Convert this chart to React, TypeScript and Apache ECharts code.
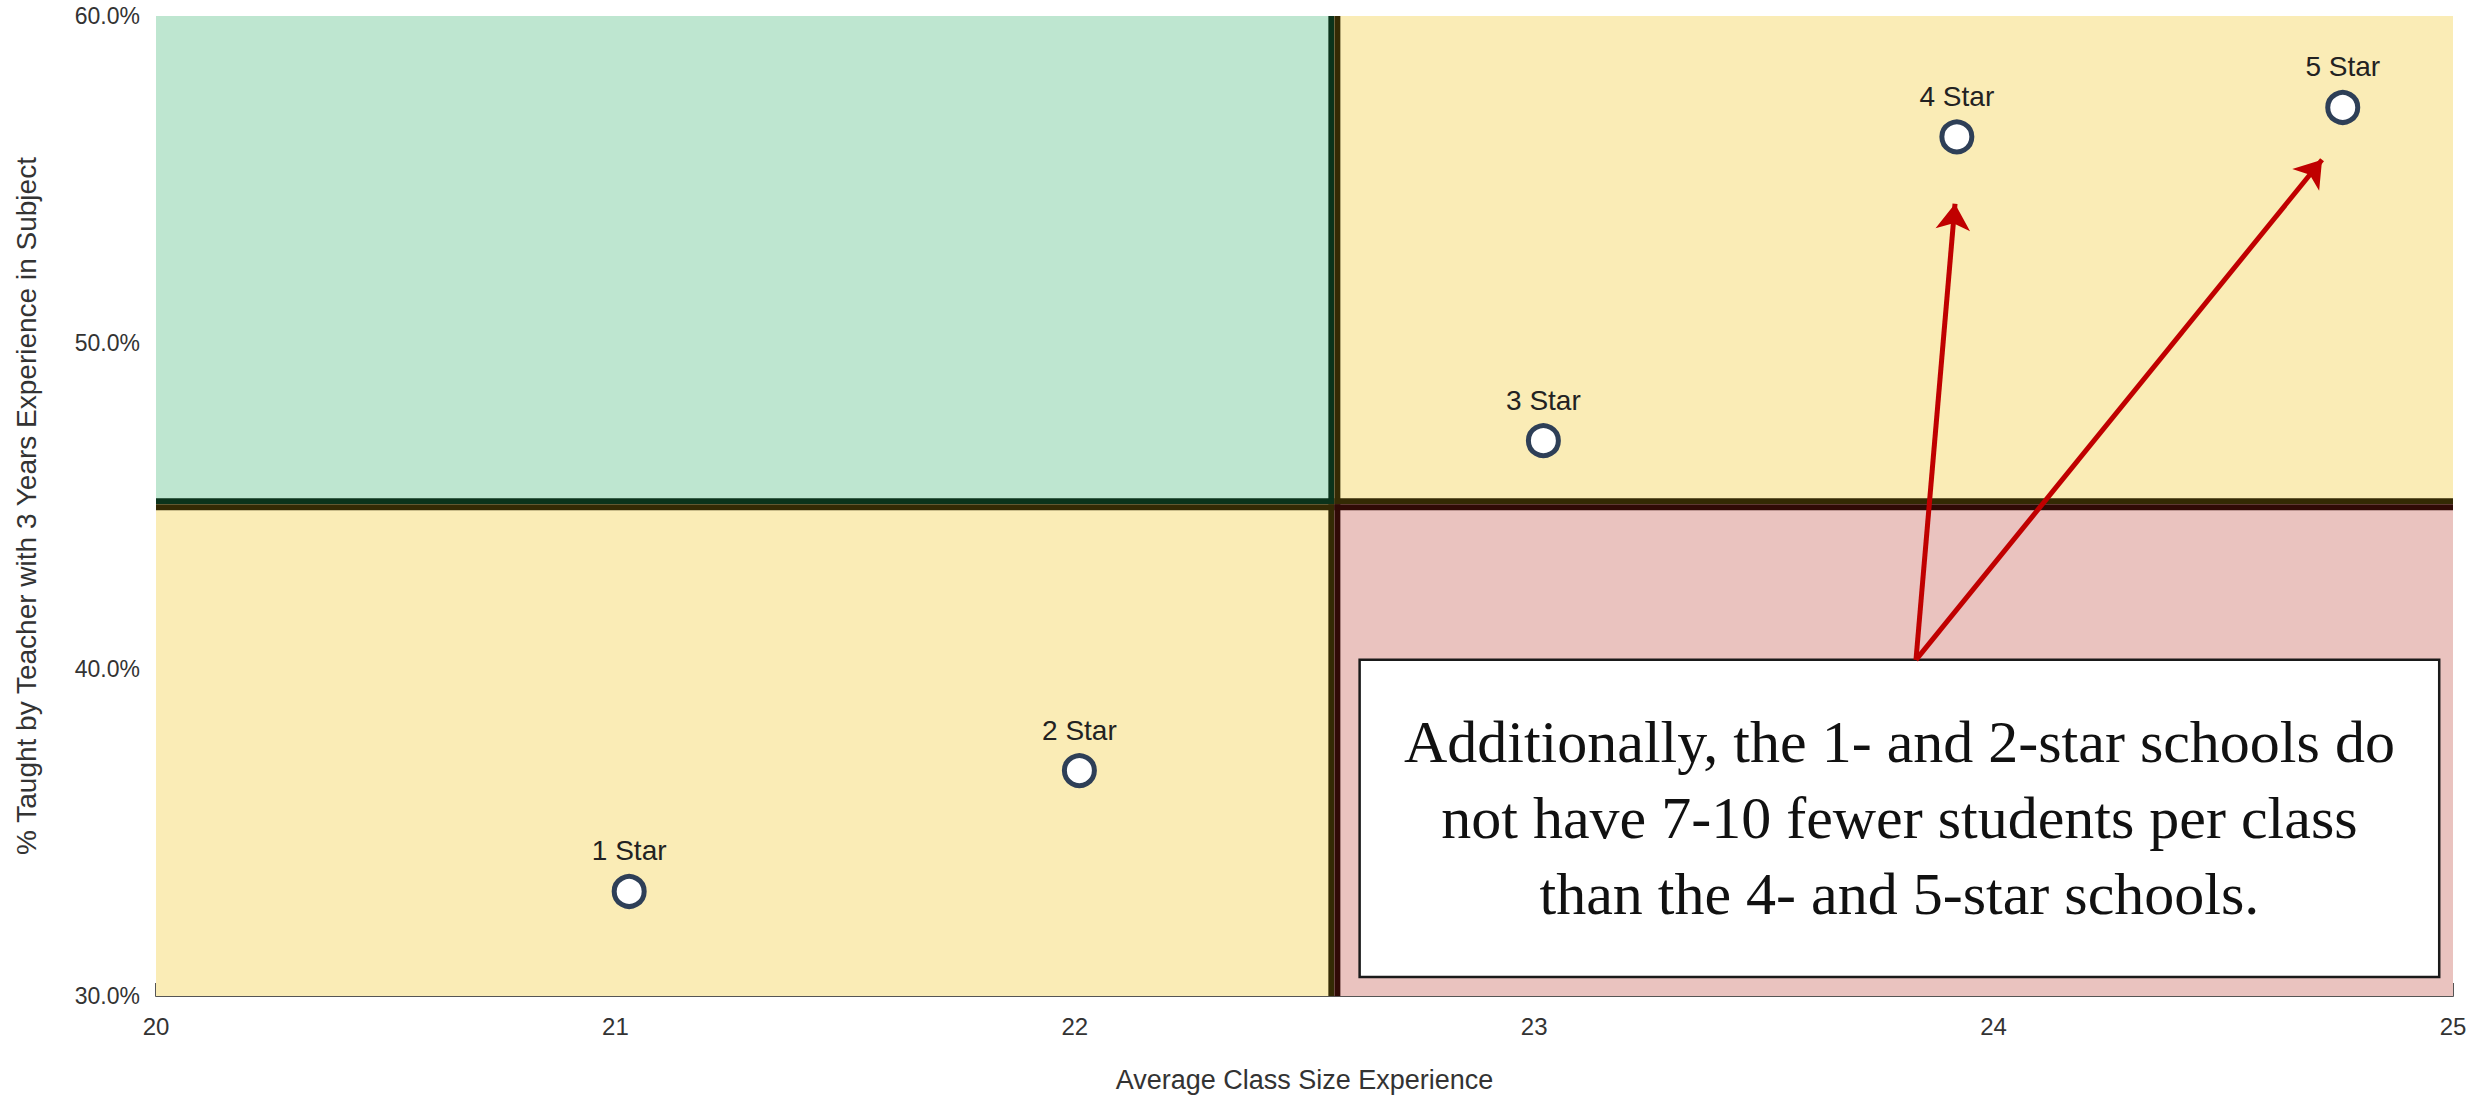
import React, { useEffect, useRef } from "react";
import * as echarts from "echarts";

// School ratings and their averages
const schools = ["1 Star", "2 Star", "3 Star", "4 Star", "5 Star"];
const classSize = [21.03, 22.01, 23.02, 23.92, 24.76];
const experiencedPct = [33.2, 36.9, 47.0, 56.3, 57.2];

// Axis ranges (x: students per class, y: percent)
const xRange = [20, 25];
const yRange = [30, 60];

// Thresholds that split the plot into four quadrants
const classSizeSplit = 22.565;
const experienceSplit = 45.05;

// Callout text and where it sits (data units)
const noteLines = [
  "Additionally, the 1- and 2-star schools do",
  "not have 7-10 fewer students per class",
  "than the 4- and 5-star schools.",
];
const noteTopLeft = [22.62, 40.29];
const noteBottomRight = [24.97, 30.58];
const arrowFrom = [23.831, 40.29];
const arrowTips = [
  [23.916, 54.25],
  [24.715, 55.6],
];

// Quadrant fills and inner edge colours: [fill, edge]
const QUAD_STYLE = {
  green: ["#BEE6D0", "#0B331B"],
  yellow: ["#FAECB6", "#342A04"],
  pink: ["#EAC3BF", "#300A06"],
};

const SANS = '"Liberation Sans", Arial, Helvetica, sans-serif';
const SERIF = '"Liberation Serif", "Times New Roman", serif';

export default function App() {
  const ref = useRef<HTMLDivElement>(null);

  useEffect(() => {
    if (!ref.current) return;
    const chart = echarts.init(ref.current, undefined, { renderer: "svg" });

    // quadrant rows: [x0, x1, y0, y1, col, row]
    const quadrants = [
      [xRange[0], classSizeSplit, experienceSplit, yRange[1], 0, 0],
      [classSizeSplit, xRange[1], experienceSplit, yRange[1], 1, 0],
      [xRange[0], classSizeSplit, yRange[0], experienceSplit, 0, 1],
      [classSizeSplit, xRange[1], yRange[0], experienceSplit, 1, 1],
    ];
    const quadStyles = [QUAD_STYLE.green, QUAD_STYLE.yellow, QUAD_STYLE.yellow, QUAD_STYLE.pink];
    const EDGE = 6;

    const option: any = {
      animation: false,
      backgroundColor: "#ffffff",
      grid: { left: 156, right: 26, top: 16, bottom: 96, containLabel: false },
      xAxis: {
        type: "value",
        min: xRange[0],
        max: xRange[1],
        interval: 1,
        name: "Average Class Size Experience",
        nameLocation: "middle",
        nameGap: 70,
        nameTextStyle: { fontSize: 27, color: "#333", fontFamily: SANS },
        axisLine: { show: true, onZero: false, lineStyle: { color: "#555", width: 2 } },
        axisTick: { show: true, inside: true, length: 13, lineStyle: { color: "#555", width: 2 } },
        axisLabel: { fontSize: 24, color: "#333", margin: 18, fontFamily: SANS },
        splitLine: { show: false },
      },
      yAxis: {
        type: "value",
        min: yRange[0],
        max: yRange[1],
        interval: 10,
        name: "% Taught by Teacher with 3 Years Experience in Subject",
        nameLocation: "middle",
        nameGap: 116,
        nameTextStyle: { fontSize: 28, color: "#333", fontFamily: SANS },
        axisLine: { show: false },
        axisTick: { show: false },
        axisLabel: {
          fontSize: 23,
          color: "#333",
          margin: 16,
          fontFamily: SANS,
          formatter: (v: number) => `${v.toFixed(1)}%`,
        },
        splitLine: { show: false },
      },
      series: [
        {
          type: "custom",
          z: 1,
          silent: true,
          data: quadrants,
          encode: { x: [0, 1], y: [2, 3] },
          renderItem: (params: any, api: any) => {
            const i = params.dataIndex;
            const q = quadrants[i];
            const [fill, edge] = quadStyles[i];
            const p0 = api.coord([q[0], q[3]]);
            const p1 = api.coord([q[1], q[2]]);
            const col = q[4];
            const row = q[5];
            const vx = col === 0 ? p1[0] - EDGE / 2 : p0[0] + EDGE / 2;
            const hy = row === 0 ? p1[1] - EDGE / 2 : p0[1] + EDGE / 2;
            return {
              type: "group",
              children: [
                {
                  type: "rect",
                  shape: { x: p0[0], y: p0[1], width: p1[0] - p0[0], height: p1[1] - p0[1] },
                  style: { fill },
                },
                {
                  type: "line",
                  shape: { x1: vx, y1: p0[1], x2: vx, y2: p1[1] },
                  style: { stroke: edge, lineWidth: EDGE },
                },
                {
                  type: "line",
                  shape: { x1: p0[0], y1: hy, x2: p1[0], y2: hy },
                  style: { stroke: edge, lineWidth: EDGE },
                },
              ],
            };
          },
        },
        {
          // callout box with its note
          type: "custom",
          z: 3,
          silent: true,
          data: [[noteTopLeft[0], noteBottomRight[0], noteBottomRight[1], noteTopLeft[1]]],
          encode: { x: [0, 1], y: [2, 3] },
          renderItem: (_params: any, api: any) => {
            const p0 = api.coord([api.value(0), api.value(3)]);
            const p1 = api.coord([api.value(1), api.value(2)]);
            const w = p1[0] - p0[0];
            const h = p1[1] - p0[1];
            return {
              type: "group",
              children: [
                {
                  type: "rect",
                  shape: { x: p0[0], y: p0[1], width: w, height: h },
                  style: { fill: "#ffffff", stroke: "#1a1a1a", lineWidth: 2.5 },
                },
                {
                  type: "text",
                  x: p0[0] + w / 2,
                  y: p0[1] + h / 2,
                  style: {
                    text: noteLines.join("\n"),
                    fill: "#111",
                    fontFamily: SERIF,
                    fontSize: 60,
                    lineHeight: 76,
                    align: "center",
                    verticalAlign: "middle",
                  },
                },
              ],
            };
          },
        },
        {
          type: "scatter",
          z: 5,
          silent: true,
          symbol: "circle",
          symbolSize: 30,
          itemStyle: { color: "#ffffff", borderColor: "#2E3F57", borderWidth: 5, opacity: 1 },
          label: {
            show: true,
            position: "top",
            distance: 9,
            fontSize: 28,
            color: "#222",
            fontFamily: SANS,
            formatter: (p: any) => p.value[2],
          },
          data: classSize.map((x, i) => [x, experiencedPct[i], schools[i]]),
          markLine: {
            silent: true,
            symbol: ["none", "arrow"],
            symbolSize: 26,
            label: { show: false },
            lineStyle: { color: "#C00000", width: 5, type: "solid", opacity: 1 },
            data: arrowTips.map((t) => [{ coord: arrowFrom }, { coord: t }]),
          },
        },
      ],
    };

    chart.setOption(option);
    return () => chart.dispose();
  }, []);

  return (
    <div
      ref={ref}
      style={{ position: "absolute", left: 0, top: 0, width: 2479, height: 1098 }}
    />
  );
}
